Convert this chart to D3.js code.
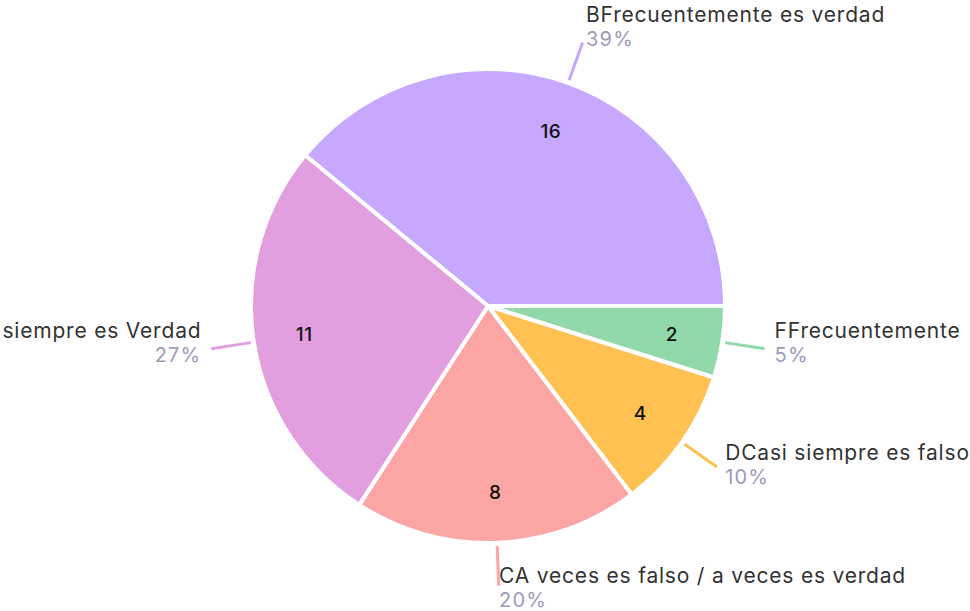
<!DOCTYPE html>
<html>
<head>
<meta charset="utf-8">
<script src="https://cdn.jsdelivr.net/npm/d3@7"></script>
<style>
  html, body { margin: 0; padding: 0; background: #fff; overflow: hidden; }
  #chart { width: 970px; height: 611px; }
  text { font-family: Inter, "Noto Sans", sans-serif; }
</style>
</head>
<body>
<div id="chart"></div>
<script>
// datos de la encuesta (orden del gráfico, en sentido horario)
const categories = [
  'BFrecuentemente es verdad',
  'FFrecuentemente es falso',
  'DCasi siempre es falso',
  'CA veces es falso / a veces es verdad',
  'ACasi siempre es Verdad'
];
const counts = [16, 2, 4, 8, 11];
const colors = ['#c6a8fe', '#91d8aa', '#ffc252', '#fca5a5', '#e19fe0'];

const width = 970, height = 611;
const cx = 488, cy = 306, radius = 237;
const total = d3.sum(counts);

const svg = d3.select('#chart')
  .append('svg')
  .attr('width', width)
  .attr('height', height);

const g = svg.append('g').attr('transform', `translate(${cx},${cy})`);

const data = categories.map((c, i) => ({ name: c, value: counts[i], color: colors[i] }));

// comienzo de la primera porción (B)
const startDeg = 90 - counts[0] / total * 360;
const pie = d3.pie()
  .sort(null)
  .value(d => d.value)
  .startAngle(startDeg * Math.PI / 180)
  .endAngle((startDeg + 360) * Math.PI / 180);

const arcs = pie(data);
const arc = d3.arc().innerRadius(0).outerRadius(radius);

g.selectAll('path.slice')
  .data(arcs)
  .enter()
  .append('path')
  .attr('class', 'slice')
  .attr('d', arc)
  .attr('fill', d => d.data.color)
  .attr('stroke', '#fff')
  .attr('stroke-width', 4)
  .attr('stroke-linejoin', 'round');

const mid = d => (d.startAngle + d.endAngle) / 2;
const pt = (a, r) => [r * Math.sin(a), -r * Math.cos(a)];

// valores dentro del pastel
g.selectAll('text.val')
  .data(arcs)
  .enter()
  .append('text')
  .attr('class', 'val')
  .attr('x', d => pt(mid(d), 186)[0])
  .attr('y', d => pt(mid(d), 186)[1])
  .attr('dy', '0.36em')
  .attr('text-anchor', 'middle')
  .attr('font-size', '19px')
  .attr('font-weight', 500)
  .attr('letter-spacing', '0.5px')
  .attr('fill', '#111')
  .text(d => d.data.value);

// líneas guía
g.selectAll('line.lead')
  .data(arcs)
  .enter()
  .append('line')
  .attr('class', 'lead')
  .attr('x1', d => pt(mid(d), 240)[0])
  .attr('y1', d => pt(mid(d), 240)[1])
  .attr('x2', d => pt(mid(d), 280)[0])
  .attr('y2', d => pt(mid(d), 280)[1])
  .attr('stroke', d => d.data.color)
  .attr('stroke-width', 3);

// etiquetas exteriores
const labels = g.selectAll('g.label')
  .data(arcs)
  .enter()
  .append('g')
  .attr('class', 'label')
  .attr('transform', d => {
    const a = mid(d);
    const p = pt(a, 280);
    return `translate(${p[0] + 10 * Math.sin(a)},${p[1] - 12 - 9 * Math.cos(a)})`;
  })
  .attr('text-anchor', d => Math.sin(mid(d)) >= -0.01 ? 'start' : 'end');

labels.append('text')
  .attr('class', 'name')
  .attr('font-size', '21px')
  .attr('letter-spacing', '0.8px')
  .attr('fill', '#333')
  .text(d => d.data.name);

labels.append('text')
  .attr('y', 24)
  .attr('font-size', '20px')
  .attr('letter-spacing', '1.2px')
  .attr('fill', '#9c9cb8')
  .text(d => Math.round(d.value / total * 100) + '%');

// recortar por palabras las etiquetas que salen del lienzo
labels.select('text.name').each(function(d) {
  const t = d3.select(this);
  const left = Math.sin(mid(d)) < -0.01;
  let words = d.data.name.split(' ');
  const fits = () => {
    const b = this.getBBox();
    const m = this.getCTM();
    const x0 = m.e + b.x, x1 = x0 + b.width;
    return x0 >= -4 && x1 <= width + 4;
  };
  while (!fits() && words.length > 1) {
    if (left) words.shift(); else words.pop();
    t.text(words.join(' '));
  }
});
</script>
</body>
</html>
